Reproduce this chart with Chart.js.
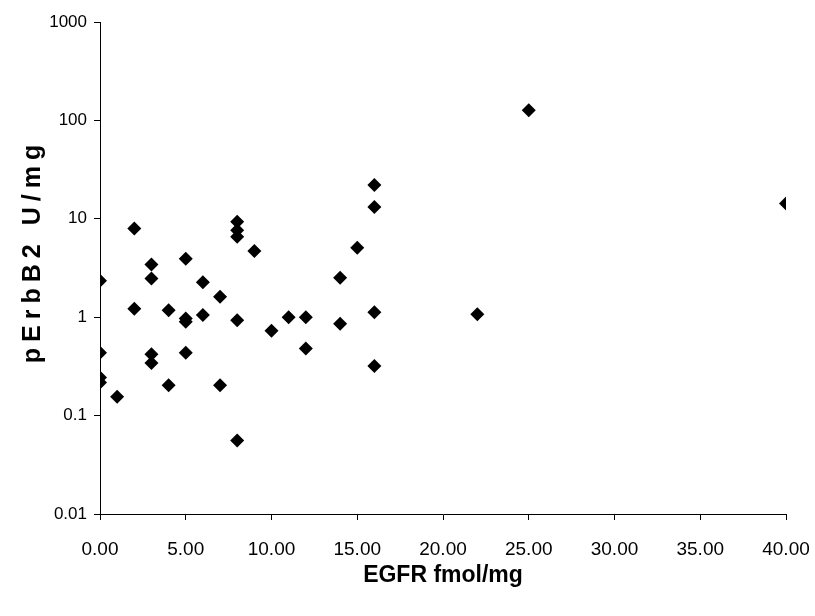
<!DOCTYPE html>
<html>
<head>
<meta charset="utf-8">
<script src="https://cdn.jsdelivr.net/npm/chart.js@4"></script>
<style>
  html, body { margin: 0; padding: 0; background: #fff; }
  #wrap { width: 815px; height: 616px; position: relative; }
</style>
</head>
<body>
<div id="wrap"><canvas id="c" width="815" height="616"></canvas></div>
<script>
// Data
const egfr   = [0, 0, 0, 0, 1, 2, 2, 3, 3, 3, 3, 4, 4, 5, 5, 5, 5, 6, 6, 7, 7, 8, 8, 8, 8, 8, 9, 10, 11, 12, 12, 14, 14, 15, 16, 16, 16, 16, 22, 25, 40];
const perbb2 = [2.34, 0.434, 0.244, 0.217, 0.155, 7.98, 1.22, 3.44, 2.48, 0.42, 0.343, 1.18, 0.203, 3.92, 0.97, 0.90, 0.434, 2.27, 1.05, 1.61, 0.203, 9.33, 7.67, 6.56, 0.93, 0.056, 4.72, 0.73, 1.0, 1.0, 0.48, 2.51, 0.86, 5.07, 22, 13.2, 1.12, 0.32, 1.07, 127, 14.3];
const yTicks = [0.01, 0.1, 1, 10, 100, 1000];
const xTitle = 'EGFR fmol/mg';
const yTitle = 'pErbB2 U/mg';

const points = egfr.map((x, i) => ({ x: x, y: perbb2[i] }));

const FONT = '"Liberation Sans", Arial, sans-serif';

const yTitlePlugin = {
  id: 'yTitle',
  afterDraw(chart) {
    const ctx = chart.ctx;
    const area = chart.chartArea;
    ctx.save();
    ctx.translate(33, (area.top + area.bottom) / 2);
    ctx.rotate(-Math.PI / 2);
    ctx.font = 'bold 25px ' + FONT;
    ctx.fillStyle = '#000';
    ctx.textAlign = 'center';
    ctx.textBaseline = 'middle';
    if ('letterSpacing' in ctx) ctx.letterSpacing = '6px';
    ctx.fillText(yTitle, 17, 0);
    ctx.restore();
  }
};

new Chart(document.getElementById('c'), {
  type: 'scatter',
  data: {
    datasets: [{
      data: points,
      pointStyle: 'rectRot',
      pointRadius: 7,
      pointHoverRadius: 7,
      backgroundColor: '#000',
      borderColor: '#000',
      borderWidth: 0
    }]
  },
  options: {
    responsive: false,
    animation: false,
    events: [],
    layout: { padding: { top: 22, right: 29, left: 0, bottom: 0 } },
    plugins: { legend: { display: false }, tooltip: { enabled: false } },
    scales: {
      x: {
        type: 'linear',
        min: 0, max: 40,
        ticks: {
          stepSize: 5,
          color: '#000',
          font: { family: FONT, size: 19 },
          padding: 18,
          maxRotation: 0,
          callback: v => Number(v).toFixed(2)
        },
        grid: { display: true, drawOnChartArea: false, drawTicks: true, tickLength: 6, color: '#000', tickColor: '#000' },
        border: { display: true, color: '#000', width: 1 },
        title: { display: true, text: xTitle, color: '#000', font: { family: FONT, size: 23, weight: 'bold' }, padding: { top: 4, bottom: 27 } },
        afterFit(s) { s.height = 102; s.paddingLeft = 0; s.paddingRight = 0; }
      },
      y: {
        type: 'logarithmic',
        min: 0.01, max: 1000,
        afterBuildTicks(s) { s.ticks = yTicks.map(v => ({ value: v })); },
        ticks: {
          color: '#000',
          font: { family: FONT, size: 17 },
          padding: 7,
          callback: v => String(v)
        },
        grid: { display: true, drawOnChartArea: false, drawTicks: true, tickLength: 6, color: '#000', tickColor: '#000' },
        border: { display: true, color: '#000', width: 1 },
        afterFit(s) { s.width = 100; s.paddingTop = 0; s.paddingBottom = 0; }
      }
    }
  },
  plugins: [yTitlePlugin]
});
</script>
</body>
</html>
